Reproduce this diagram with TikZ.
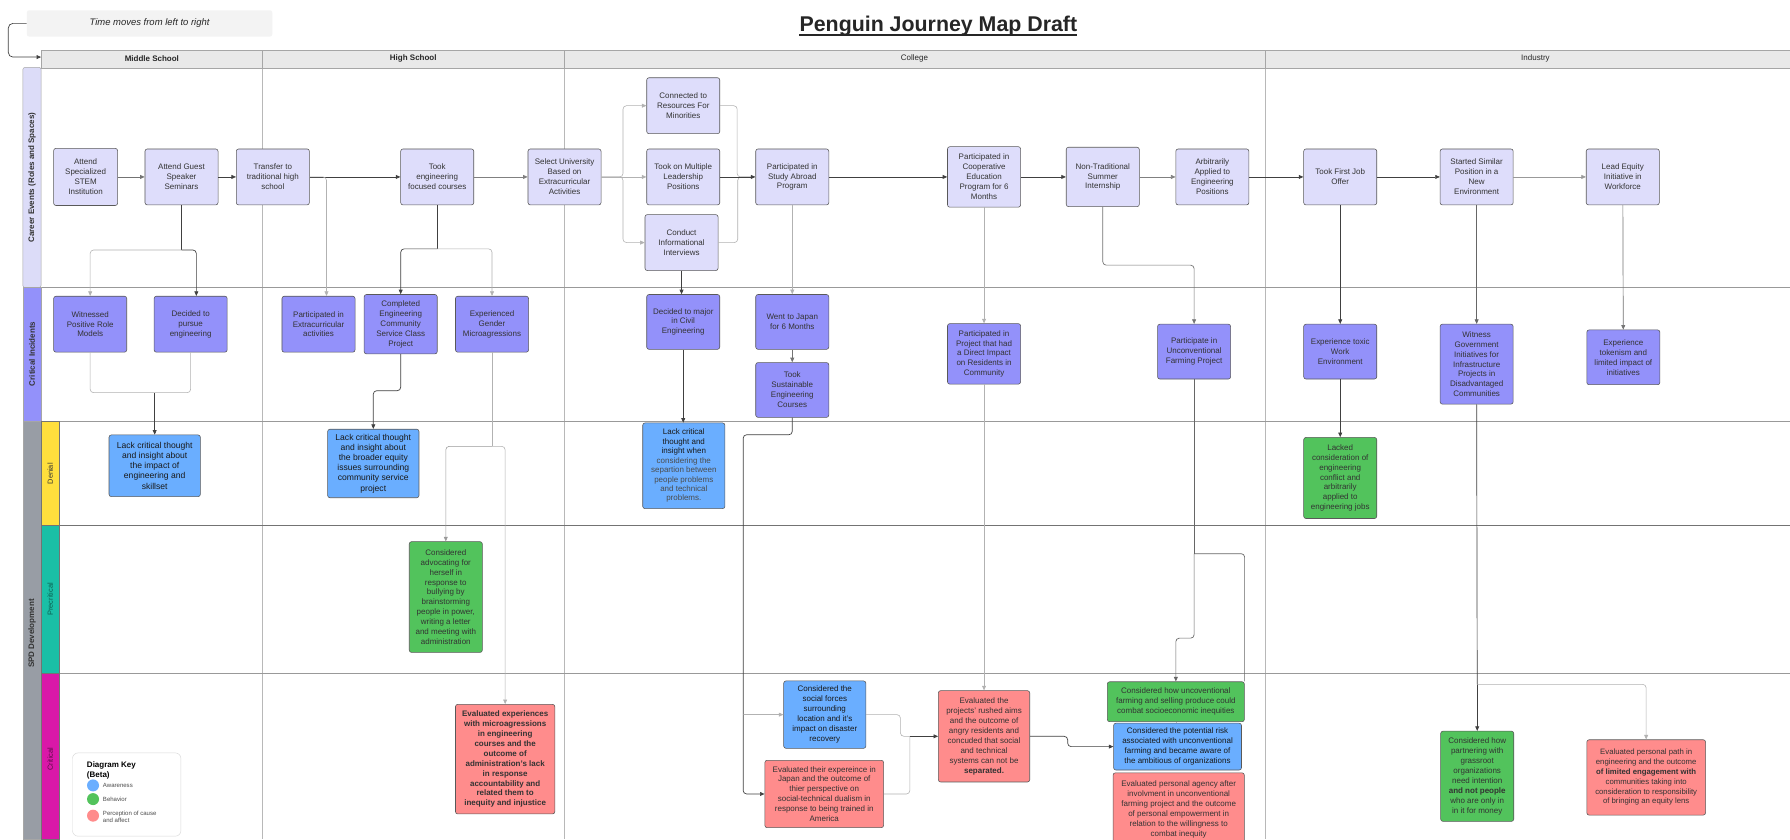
\documentclass[tikz,border=0pt]{standalone}
\usepackage{fontspec}
\setmainfont{Liberation Sans}
\setsansfont{Liberation Sans}
\usetikzlibrary{arrows.meta}

\definecolor{careerfill}{HTML}{DEDDFB}
\definecolor{careerlane}{HTML}{DCDCF8}
\definecolor{incfill}{HTML}{9391FA}
\definecolor{awarefill}{HTML}{6AAEFF}
\definecolor{behavfill}{HTML}{52C35C}
\definecolor{percfill}{HTML}{FF8C8C}
\definecolor{hdrfill}{HTML}{E9E9E9}
\definecolor{timefill}{HTML}{F3F3F3}
\definecolor{spdgray}{HTML}{989DA5}
\definecolor{denialyel}{HTML}{FFDF3D}
\definecolor{precteal}{HTML}{1ABFA6}
\definecolor{critmag}{HTML}{D918A8}
\definecolor{prectext}{HTML}{0B5E50}
\definecolor{crittext}{HTML}{5E0A4A}

\newcommand{\boxfont}{\fontsize{7}{8.7}\selectfont}
\newcommand{\lanefont}{\fontsize{7}{8}\selectfont\bfseries}
\newcommand{\keyfont}{\fontsize{5.3}{6.2}\selectfont}

\tikzset{
  card/.style={draw=black!65, line width=0.5pt, rounded corners=2pt, align=center,
    font=\boxfont, text=black!80, inner sep=1pt, minimum width=64, minimum height=49},
  ev/.style={card, fill=careerfill},
  ci/.style={card, fill=incfill},
  aware/.style={card, fill=awarefill, text=black!90},
  behav/.style={card, fill=behavfill},
  perc/.style={card, fill=percfill},
  link/.style={draw=black!75, line width=0.6pt},
  faint/.style={draw=black!30, line width=0.5pt},
  laneline/.style={draw=black!40, line width=0.6pt},
  colline/.style={draw=black!28, line width=0.5pt},
  keydot/.style={circle, minimum size=10.5, inner sep=0pt, draw=none}
}

\begin{document}
\begin{tikzpicture}[font=\sffamily, x=1pt, y=-1pt, >={Triangle[length=4pt,width=3.4pt]}]
  \fill[white] (0,0) rectangle (1568,735);
  \useasboundingbox (0,0) rectangle (1568,735);

  \node (time) at (131,20.5) [fill=timefill, rounded corners=2pt, minimum width=215, minimum height=23,
    font=\fontsize{8.3}{9}\selectfont\itshape, text=black!85]{Time moves from left to right};
  \node (title) at (822,28) [anchor=base, inner sep=0pt, font=\fontsize{18.7}{20}\selectfont\bfseries,
    text=black!85]{Penguin Journey Map Draft};
  \draw[black!85, line width=1.6pt] ([yshift=-2.6pt]title.base west) -- ([yshift=-2.6pt]title.base east);

  \draw[colline] (230,59) -- (230,735);
  \draw[colline] (494,59) -- (494,735);
  \draw[colline] (1108,59) -- (1108,735);
  \draw[laneline] (36,252) -- (1568,252);
  \draw[laneline] (36,369) -- (1568,369);
  \draw[laneline, draw=black!55] (52,460) -- (1568,460);
  \draw[laneline] (52,590) -- (1568,590);

  \draw[draw=black!35, fill=hdrfill] (36,44) rectangle (1568,59.5);
  \draw[draw=black!35] (230,44) -- (230,59.5);
  \draw[draw=black!35] (494,44) -- (494,59.5);
  \draw[draw=black!35] (1108,44) -- (1108,59.5);
  \node (hms) at (133,51.5) [font=\lanefont, text=black!85]{Middle School};
  \node (hhs) at (362,51.5) [font=\lanefont, text=black!85]{High School};
  \node (hcol) at (801,51.5) [font=\fontsize{7}{8}\selectfont, text=black!85]{College};
  \node (hind) at (1345,51.5) [font=\fontsize{7}{8}\selectfont, text=black!85]{Industry};

  \draw[draw=black!35, fill=careerlane, rounded corners=2pt] (20,59) rectangle (36,252);
  \draw[draw=black!35, fill=incfill] (20,252) rectangle (36,369);
  \draw[draw=black!35, fill=spdgray] (20,369) rectangle (36,735);
  \draw[draw=black!55, fill=denialyel] (36,369) rectangle (52,460);
  \draw[draw=black!55, fill=precteal] (36,460) rectangle (52,590);
  \draw[draw=black!55, fill=critmag] (36,590) rectangle (52,735);
  \node (lcareer) at (28,155.5) [rotate=90, font=\lanefont, text=black!80]{Career Events (Roles and Spaces)};
  \node (lci) at (28,310) [rotate=90, font=\lanefont, text=black!80]{Critical Incidents};
  \node (lspd) at (28,555) [rotate=90, font=\lanefont, text=black!80]{SPD Development};
  \node (lden) at (44,415) [rotate=90, font=\fontsize{6.5}{7}\selectfont, text=black!80]{Denial};
  \node (lpre) at (44,525) [rotate=90, font=\fontsize{6.5}{7}\selectfont, text=prectext]{Precritical};
  \node (lcrit) at (44,665) [rotate=90, font=\fontsize{6.5}{7}\selectfont, text=crittext]{Critical};

  \node (a1) at (75,155) [ev, minimum width=56, minimum height=50]{Attend\\Specialized\\STEM\\Institution};
  \node (a2) at (159,155) [ev]{Attend Guest\\Speaker\\Seminars};
  \node (a3) at (239,155) [ev]{Transfer to\\traditional high\\school};
  \node (a4) at (383,155) [ev]{Took\\engineering\\focused courses};
  \node (a5) at (494.5,155) [ev]{Select University\\Based on\\Extracurricular\\Activities};
  \node (a6) at (598.5,92.6) [ev]{Connected to\\Resources For\\Minorities};
  \node (a7) at (598.5,155) [ev]{Took on Multiple\\Leadership\\Positions};
  \node (a8) at (597,212.5) [ev]{Conduct\\Informational\\Interviews};
  \node (a9) at (694,155) [ev]{Participated in\\Study Abroad\\Program};
  \node (a10) at (862,155) [ev, minimum height=53]{Participated in\\Cooperative\\Education\\Program for 6\\Months};
  \node (a11) at (966,155) [ev, minimum height=52]{Non-Traditional\\Summer\\Internship};
  \node (a12) at (1062,155) [ev]{Arbitrarily\\Applied to\\Engineering\\Positions};
  \node (a13) at (1174,155) [ev]{Took First Job\\Offer};
  \node (a14) at (1293.5,155) [ev]{Started Similar\\Position in a\\New\\Environment};
  \node (a15) at (1421.5,155) [ev]{Lead Equity\\Initiative in\\Workforce};

  \node (c1) at (79,284) [ci]{Witnessed\\Positive Role\\Models};
  \node (c2) at (167,284) [ci]{Decided to\\pursue\\engineering};
  \node (c3) at (279,284) [ci]{Participated in\\Extracurricular\\activities};
  \node (c4) at (351,284) [ci, minimum height=52]{Completed\\Engineering\\Community\\Service Class\\Project};
  \node (c5) at (431,284) [ci]{Experienced\\Gender\\Microagressions};
  \node (c6) at (598.5,282) [ci, minimum height=48]{Decided to major\\in Civil\\Engineering};
  \node (c7) at (694,282) [ci, minimum height=48]{Went to Japan\\for 6 Months};
  \node (c8) at (694,341.6) [ci, minimum height=48]{Took\\Sustainable\\Engineering\\Courses};
  \node (c9) at (862,310) [ci, minimum height=53]{Participated in\\Project that had\\a Direct Impact\\on Residents in\\Community};
  \node (c10) at (1046,308) [ci, minimum height=48]{Participate in\\Unconventional\\Farming Project};
  \node (c11) at (1174,308) [ci, minimum height=48]{Experience toxic\\Work\\Environment};
  \node (c12) at (1293.5,319) [ci, minimum height=70]{Witness\\Government\\Initiatives for\\Infrastructure\\Projects in\\Disadvantaged\\Communities};
  \node (c13) at (1422,313) [ci, minimum height=48]{Experience\\tokenism and\\limited impact of\\initiatives};

  \node (d1) at (135.5,408) [aware, minimum width=80, minimum height=54, font=\fontsize{7.5}{8.9}\selectfont]{Lack critical thought\\and insight about\\the impact of\\engineering and\\skillset};
  \node (d2) at (327,406) [aware, minimum width=80, minimum height=60, font=\fontsize{7.5}{8.9}\selectfont]{Lack critical thought\\and insight about\\the broader equity\\issues surrounding\\community service\\project};
  \node (d3) at (599,408) [aware, minimum width=72, minimum height=75, font=\fontsize{7}{8.3}\selectfont]{Lack critical\\thought and\\insight when\\{\color{black!70}considering the}\\{\color{black!70}separtion between}\\{\color{black!70}people problems}\\{\color{black!70}and technical}\\{\color{black!70}problems.}};
  \node (d4) at (1174,418.7) [behav, minimum height=71]{Lacked\\consideration of\\engineering\\conflict and\\arbitrarily\\applied to\\engineering jobs};

  \node (p1) at (390.5,523) [behav, minimum height=97]{Considered\\advocating for\\herself in\\response to\\bullying by\\brainstorming\\people in power,\\writing a letter\\and meeting with\\administration};

  \node (e1) at (442.5,665) [perc, minimum width=87, minimum height=96, font=\boxfont\bfseries]{Evaluated experiences\\with microagressions\\in engineering\\courses and the\\outcome of\\administration's lack\\in response\\accountability and\\related them to\\inequity and injustice};
  \node (k1) at (722.5,626) [aware, minimum width=72, minimum height=59]{Considered the\\social forces\\surrounding\\location and it's\\impact on disaster\\recovery};
  \node (k2) at (722,695.5) [perc, minimum width=104, minimum height=59]{Evaluated their expereince in\\Japan and the outcome of\\thier  perspective on\\social-technical dualism in\\response to being trained in\\America};
  \node (k3) at (862,645) [perc, minimum width=80, minimum height=80]{Evaluated the\\projects' rushed aims\\and the outcome of\\angry residents and\\concuded that social\\and technical\\systems can not be\\\textbf{separated.}};
  \node (k4) at (1030,614.7) [behav, minimum width=120, minimum height=35]{Considered how uncoventional\\farming and selling produce could\\combat socioeconomic inequities};
  \node (k5) at (1031.5,654) [aware, minimum width=112, minimum height=41]{Considered the potential risk\\associated with unconventional\\farming and became aware of\\the ambitious of organizations};
  \node (k6) at (1032.5,709) [perc, minimum width=115, minimum height=64]{Evaluated personal agency after\\involvment in unconventional\\farming project and the outcome\\of personal empowerment in\\relation to the willingness to\\combat  inequity};
  \node (k7) at (1294,680) [behav, minimum height=79]{Considered how\\partnering with\\grassroot\\organizations\\need intention\\\textbf{and not people}\\who are only in\\in it for money};
  \node (k8) at (1442,681) [perc, minimum width=104, minimum height=66, font=\fontsize{6.8}{8.6}\selectfont]{Evaluated personal path in\\engineering and the outcome\\\textbf{of limited engagement with}\\communities taking into\\consideration to responsibility\\of bringing an equity lens};

  \node (keybox) at (111,696) [draw=black!15, fill=white, rounded corners=5pt, minimum width=95, minimum height=73]{};
  \node (keytitle) at (76,667) [anchor=north west, inner sep=0pt, align=left, font=\fontsize{7}{8.5}\selectfont\bfseries]{Diagram Key\\(Beta)};
  \node (kaw) at (81.5,688) [keydot, fill=awarefill]{};
  \node (kbh) at (81.5,700) [keydot, fill=behavfill]{};
  \node (kpc) at (81.5,714.5) [keydot, fill=percfill]{};
  \node (kawt) at (90,688) [anchor=west, inner sep=0pt, font=\keyfont, text=black!70]{Awareness};
  \node (kbht) at (90,700) [anchor=west, inner sep=0pt, font=\keyfont, text=black!70]{Behavior};
  \node (kpct) at (90,715.5) [anchor=west, inner sep=0pt, align=left, font=\keyfont, text=black!70]{Perception of cause\\and affect};

  \coordinate (hdrin) at (36,50);
  \coordinate (j1) at (159,219);
  \coordinate (j2) at (383,218);
  \coordinate (j3) at (135.5,344);
  \coordinate (j4) at (431,391);
  \coordinate (j5) at (651,626);
  \coordinate (j6) at (1046,485);
  \coordinate (j7) at (1294,599.5);
  \coordinate (j8) at (797,645);

  \draw[link,->,rounded corners=4pt] (time.west) -- ++(-16,0) |- (hdrin);

  \draw[link,draw=black!55,->] (a1) -- (a2);
  \draw[link,->] (a2) -- (a3);
  \draw[link,->] (a3) -- (a4);
  \draw[link,draw=black!50,->] (a4) -- (a5);
  \draw[faint,->,rounded corners=3pt] (a5.east) -- ++(19,0) |- (a6.west);
  \draw[faint,->] (a5) -- (a7);
  \draw[faint,->,rounded corners=3pt] (a5.east) -- ++(19,0) |- (a8.west);
  \draw[faint,rounded corners=3pt] (a6.east) -- ++(15,0) |- (a9.west);
  \draw[faint,rounded corners=3pt] (a8.east) -- ++(17,0) |- (a9.west);
  \draw[link,->] (a7) -- (a9);
  \draw[link,->] (a9) -- (a10);
  \draw[link,->] (a10) -- (a11);
  \draw[link,draw=black!50,->] (a11) -- (a12);
  \draw[link,->] (a12) -- (a13);
  \draw[link,->] (a13) -- (a14);
  \draw[faint,draw=black!40,->] (a14) -- (a15);

  \draw[link] (a2.south) -- (j1);
  \draw[faint,->,rounded corners=3pt] (j1) -| (c1.north);
  \draw[link,->,rounded corners=3pt] (j1) -| ([xshift=5pt]c2.north);
  \draw[faint,->,rounded corners=3pt] (a3.east) -| ([xshift=7pt]c3.north);
  \draw[link] (a4.south) -- (j2);
  \draw[link,->,rounded corners=3pt] (j2) -| (c4.north);
  \draw[faint,->,rounded corners=3pt] (j2) -| (c5.north);
  \draw[link,->] (a8.south) -- (a8.south |- c6.north);
  \draw[faint,->] (a9) -- (c7);
  \draw[link,draw=black!55,->] (c7) -- (c8);
  \draw[faint,->] (a10) -- (c9);
  \draw[link,draw=black!55,->,rounded corners=3pt] (a11.south) -- ++(0,51) -| (c10.north);
  \draw[link,->] (a13) -- (c11);
  \draw[link,draw=black!60,->] (a14) -- (c12);
  \draw[link,draw=black!55,->] (a15) -- (c13);

  \draw[faint,rounded corners=3pt] (c1.south) |- (j3);
  \draw[faint,rounded corners=3pt] (c2.south) |- (j3);
  \draw[link,->] (j3) -- (d1.north);
  \draw[link,->,rounded corners=3pt] (c4.south) -- ++(0,32) -| (d2.north);
  \draw[link,->] (c6) -- (c6 |- d3.north);
  \draw[link,->] (c11) -- (d4);
  \draw[faint] (c5.south) -- (j4);
  \draw[faint,draw=black!40,->,rounded corners=3pt] (j4) -| (p1.north);
  \draw[faint,->,rounded corners=3pt] (j4) -| (e1.north);
  \draw[link,rounded corners=3pt] (c8.south) -- ++(0,15) -| (j5);
  \draw[faint,->] (j5) -- (k1.west);
  \draw[link,->,rounded corners=3pt] (j5) |- (k2.west);
  \draw[faint,->] (c9) -- (k3);
  \draw[link,draw=black!60] (c10.south) -- (j6);
  \draw[link,draw=black!60,rounded corners=3pt] (j6) -| (k4.north east);
  \draw[link,draw=black!60,->,rounded corners=3pt] (j6) -- ++(0,74) -| (k4.north);
  \draw[link] (c12.south) -- (j7);
  \draw[link,->] (j7) -- (k7.north);
  \draw[faint,->,rounded corners=3pt] (j7) -| (k8.north);

  \draw[faint,rounded corners=3pt] (k1.east) -- ++(30,0) |- (j8);
  \draw[faint,rounded corners=3pt] (k2.east) -| (j8);
  \draw[link,->] (j8) -- (k3.west);
  \draw[link,->,rounded corners=3pt] (k3.east) -- ++(33,0) |- (k5.west);
  \draw[faint] (k4.south) -- (k4.south |- k5.north);
\end{tikzpicture}
\end{document}
